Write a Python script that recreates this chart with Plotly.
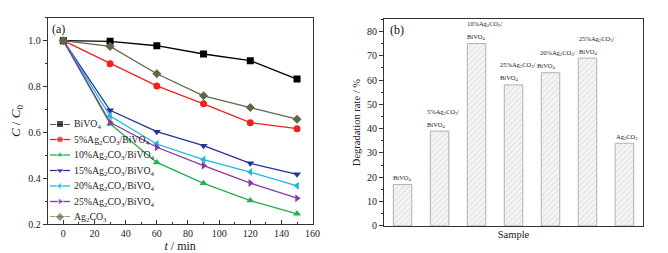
import plotly.graph_objects as go

# ---- data: panel (a) ----
time_min = [0, 30, 60, 90, 120, 150]
series_names = [
    "BiVO<sub>4</sub>",
    "5%Ag<sub>2</sub>CO<sub>3</sub>/BiVO<sub>4</sub>",
    "10%Ag<sub>2</sub>CO<sub>3</sub>/BiVO<sub>4</sub>",
    "15%Ag<sub>2</sub>CO<sub>3</sub>/BiVO<sub>4</sub>",
    "20%Ag<sub>2</sub>CO<sub>3</sub>/BiVO<sub>4</sub>",
    "25%Ag<sub>2</sub>CO<sub>3</sub>/BiVO<sub>4</sub>",
    "Ag<sub>2</sub>CO<sub>3</sub>",
]
c_bivo4 = [1.0, 0.997, 0.978, 0.942, 0.913, 0.833]
c_5pct = [1.0, 0.900, 0.803, 0.725, 0.643, 0.617]
c_10pct = [1.0, 0.638, 0.470, 0.379, 0.304, 0.246]
c_15pct = [1.0, 0.697, 0.604, 0.543, 0.466, 0.418]
c_20pct = [1.0, 0.672, 0.550, 0.482, 0.428, 0.368]
c_25pct = [1.0, 0.645, 0.536, 0.456, 0.380, 0.314]
c_ag2co3 = [1.0, 0.975, 0.856, 0.760, 0.709, 0.658]

# ---- data: panel (b) ----
samples = ["BiVO4", "5%", "10%", "25%a", "20%", "25%b", "Ag2CO3"]
degradation = [17, 39, 75, 58, 63, 69, 34]
label_line1 = ["", "5%Ag<sub>2</sub>CO<sub>3</sub>/", "10%Ag<sub>2</sub>CO<sub>3</sub>/",
               "25%Ag<sub>2</sub>CO<sub>3</sub>/", "20%Ag<sub>2</sub>CO<sub>3</sub>/",
               "25%Ag<sub>2</sub>CO<sub>3</sub>/", ""]
label_line2 = ["BiVO<sub>4</sub>", "BiVO<sub>4</sub>", "BiVO<sub>4</sub>", "BiVO<sub>4</sub>",
               "BiVO<sub>4</sub>", "BiVO<sub>4</sub>", "Ag<sub>2</sub>CO<sub>3</sub>"]

# ---- styles ----
colors = ["#000000", "#f02020", "#22b04a", "#24339a", "#1cb8e0", "#8a3aa0", "#5b6b45"]
symbols = ["square", "circle", "triangle-up", "triangle-down", "triangle-left", "triangle-right", "diamond"]
series_vals = [c_bivo4, c_5pct, c_10pct, c_15pct, c_20pct, c_25pct, c_ag2co3]
FONT = "Liberation Serif"

fig = go.Figure()
for name, vals, col, sym in zip(series_names, series_vals, colors, symbols):
    fig.add_trace(go.Scatter(
        x=time_min, y=vals, name=name, mode="lines+markers",
        line=dict(color=col, width=1.3),
        marker=dict(color=col, symbol=sym, size=7),
        xaxis="x", yaxis="y", showlegend=False,
    ))

# compact legend drawn on its own small axis (index = entry row)
annotations = []
for i, (name, col, sym) in enumerate(zip(series_names, colors, symbols)):
    fig.add_trace(go.Scatter(
        x=[0, 0.5, 1], y=[i, i, i], mode="lines+markers",
        line=dict(color=col, width=1.3),
        marker=dict(color=col, symbol=sym, size=[0, 7, 0]),
        xaxis="x3", yaxis="y3", showlegend=False, cliponaxis=False, hoverinfo="skip",
    ))
    annotations.append(dict(x=1, y=i, xref="x3", yref="y3", text=name, showarrow=False,
                            xanchor="left", yanchor="middle", xshift=2,
                            font=dict(family=FONT, size=9.8, color="#222")))

fig.add_trace(go.Bar(
    x=list(range(len(samples))), y=degradation, width=0.5,
    marker=dict(color="white", line=dict(color="#b0b0b0", width=1),
                pattern=dict(shape="/", fgcolor="#c8c8c8", bgcolor="#f4f4f4", size=4, solidity=0.25)),
    showlegend=False, xaxis="x2", yaxis="y2",
))

# bar labels: xshift px from bar centre
label_dx = [0, -15, -12, -16, -16, -10, -10]
for i, (l1, l2, v) in enumerate(zip(label_line1, label_line2, degradation)):
    anchor = "center" if i == 0 else "left"
    annotations.append(dict(x=i, y=v, xref="x2", yref="y2", text=l2, showarrow=False,
                            xanchor=anchor, yanchor="middle", xshift=label_dx[i], yshift=6.5,
                            font=dict(family=FONT, size=6.5, color="#222")))
    if l1:
        annotations.append(dict(x=i, y=v, xref="x2", yref="y2", text=l1, showarrow=False,
                                xanchor=anchor, yanchor="middle",
                                xshift=label_dx[i] + (3 if i == 4 else 0), yshift=19.5,
                                font=dict(family=FONT, size=6.5, color="#222")))

annotations.append(dict(x=-10, y=1.1, xref="x", yref="y", text="(a)", showarrow=False,
                        xanchor="left", yanchor="top", xshift=2, yshift=-2,
                        font=dict(family=FONT, size=12, color="#111")))
annotations.append(dict(x=-0.5, y=85, xref="x2", yref="y2", text="(b)", showarrow=False,
                        xanchor="left", yanchor="top", xshift=4, yshift=-2,
                        font=dict(family=FONT, size=12, color="#111")))

axis_common = dict(showline=True, linecolor="#333", linewidth=1, mirror=True,
                   showgrid=False, zeroline=False, tickcolor="#333", automargin=False,
                   tickfont=dict(family=FONT, size=10, color="#222"))

fig.update_layout(
    width=668, height=253,
    margin=dict(l=0, r=0, t=0, b=0),
    paper_bgcolor="white", plot_bgcolor="white",
    font=dict(family=FONT, color="#222"),
    xaxis=dict(domain=[0.0715, 0.468], range=[-10, 160], anchor="y",
               tickvals=[0, 20, 40, 60, 80, 100, 120, 140, 160],
               ticks="inside", ticklen=4, minor=dict(dtick=10, ticks="inside", ticklen=2, tickcolor="#333"),
               title=dict(text="<i>t</i> / min", font=dict(family=FONT, size=12), standoff=2),
               **axis_common),
    yaxis=dict(domain=[0.113, 0.930], range=[0.2, 1.1], anchor="x",
               tickvals=[0.2, 0.4, 0.6, 0.8, 1.0], ticktext=["0.2", "0.4", "0.6", "0.8", "1.0"],
               ticks="outside", ticklen=4, minor=dict(dtick=0.1, ticks="outside", ticklen=2, tickcolor="#333"),
               title=dict(text="<i>C</i> / <i>C</i><sub>0</sub>", font=dict(family=FONT, size=13), standoff=4),
               **axis_common),
    xaxis2=dict(domain=[0.575, 0.9625], range=[-0.5, 6.5], anchor="y2",
                showticklabels=False, ticks="",
                title=dict(text="Sample", font=dict(family=FONT, size=10.5), standoff=4),
                **axis_common),
    yaxis2=dict(domain=[0.107, 0.924], range=[0, 85], anchor="x2",
                tickvals=[0, 10, 20, 30, 40, 50, 60, 70, 80],
                ticks="outside", ticklen=4, minor=dict(dtick=5, ticks="outside", ticklen=2, tickcolor="#333"),
                title=dict(text="Degradation rate / %", font=dict(family=FONT, size=10.5), standoff=4),
                **axis_common),
    xaxis3=dict(domain=[50 / 668, 70 / 668], range=[0, 1], anchor="y3", visible=False, fixedrange=True),
    yaxis3=dict(domain=[1 - 217 / 253, 1 - 124 / 253], range=[6, 0], anchor="x3", visible=False, fixedrange=True),
    annotations=annotations,
    bargap=0.5,
    showlegend=False,
)

fig.write_html("out.html", config={"displayModeBar": False},
               post_script="document.body.style.margin='0';document.body.style.overflow='hidden';")
